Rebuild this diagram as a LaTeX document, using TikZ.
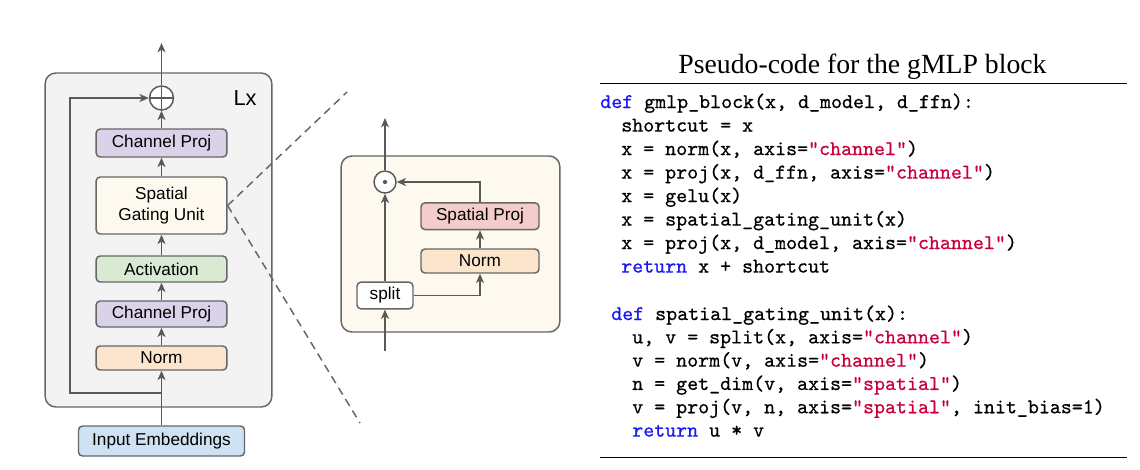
\documentclass[tikz,border=0pt]{standalone}
\usepackage{fontspec}
\setmainfont{Liberation Serif}
\newfontfamily\boxfont{Liberation Sans}
\newfontfamily\codefont{lmmono10-regular.otf}[FakeBold=0.6]
\usetikzlibrary{arrows.meta, positioning}

\definecolor{linegray}{HTML}{595959}
\definecolor{edgegray}{HTML}{666666}
\definecolor{layergray}{HTML}{F3F3F3}
\definecolor{gateyellow}{HTML}{FEF9EE}
\definecolor{projpurple}{HTML}{D9D2E9}
\definecolor{actgreen}{HTML}{D9EAD3}
\definecolor{normorange}{HTML}{FCE5CD}
\definecolor{embblue}{HTML}{CFE2F3}
\definecolor{spatred}{HTML}{F4CCCC}
\definecolor{kwblue}{RGB}{25,25,245}
\definecolor{strred}{RGB}{200,0,60}
\newcommand{\kwd}[1]{\textcolor{kwblue}{#1}}
\newcommand{\strg}[1]{\textcolor{strred}{"#1"}}

\begin{document}
\begin{tikzpicture}[
    x=0.75pt, y=-0.75pt,
    node distance=15pt,
    block/.style={
        rectangle, draw=edgegray, line width=1.1pt, rounded corners=3pt,
        minimum width=98pt, minimum height=19.5pt, inner sep=2pt, align=center,
        font=\boxfont\fontsize{12.9}{15.8}\selectfont
    },
    layerbox/.style={rectangle, draw=edgegray, line width=1.1pt, rounded corners=8pt},
    sumnode/.style={
        circle, draw=linegray, fill=white, line width=1.1pt, minimum size=18pt, inner sep=0pt,
        path picture={\draw[linegray, line width=1.1pt]
            (path picture bounding box.north) -- (path picture bounding box.south)
            (path picture bounding box.west) -- (path picture bounding box.east);}
    },
    prodnode/.style={
        circle, draw=linegray, fill=white, line width=1.1pt, minimum size=16.5pt, inner sep=0pt,
        path picture={\fill[linegray] (path picture bounding box.center) circle (1.6pt);}
    },
    arrow/.style={line width=1.1pt, draw=linegray, -{Stealth[length=7pt, width=6pt, inset=2pt]}},
    zoomline/.style={line width=1.1pt, draw=edgegray, dash pattern=on 6pt off 4pt},
    codeline/.style={anchor=mid west, inner sep=0pt, font=\codefont\fontsize{15.7}{18}\selectfont}
]
    \useasboundingbox (0,0) rectangle (1140,469);

    % gMLP layer
    \node[layerbox, fill=layergray, minimum width=170pt, minimum height=250.5pt] (layer) at (158.5,240) {};
    \node[font=\boxfont\fontsize{16.3}{18}\selectfont] (lx) at (245,98) {Lx};
    \node[block, fill=normorange, minimum height=18pt] (norm) at (161.5,358) {Norm};
    \node[block, fill=projpurple] (chin) at (161.5,314) {Channel Proj};
    \node[block, fill=actgreen] (act) at (161.5,269) {Activation};
    \node[block, fill=gateyellow, minimum height=42.75pt] (sgu) at (161.5,205.5) {Spatial\\Gating Unit};
    \node[block, fill=projpurple, minimum height=21pt] (chout) at (161.5,143) {Channel Proj};
    \node[sumnode] (plus) at (161.5,98) {};
    \node[block, fill=embblue, minimum width=124.5pt, minimum height=22.5pt] (emb) at (161.5,441) {Input Embeddings};
    \coordinate (fork) at (161.5,393);
    \coordinate (skip) at (70,393);
    \coordinate (top) at (161.5,43);

    % Connections
    \draw[arrow] (emb) -- (norm);
    \draw[arrow] (norm) -- (chin);
    \draw[arrow] (chin) -- (act);
    \draw[arrow] (act) -- (sgu);
    \draw[arrow] (sgu) -- (chout);
    \draw[arrow] (chout) -- (plus);
    \draw[arrow] (plus) -- (top);
    \draw[arrow] (fork) -- (skip) |- (plus.west);

    % Zoom lines
    \coordinate (zoomtop) at (347,92);
    \coordinate (zoombot) at (360,423);
    \draw[zoomline] (sgu.east) -- (zoomtop);
    \draw[zoomline] (sgu.east) -- (zoombot);

    % Spatial gating unit
    \node[layerbox, fill=gateyellow, minimum width=164pt, minimum height=132pt] (sgubox) at (450.5,244) {};
    \node[block, fill=white, minimum width=42pt, minimum height=20pt] (split) at (385,295.5) {split};
    \node[block, fill=normorange, minimum width=88.5pt, minimum height=18pt] (gnorm) at (480,261) {Norm};
    \node[block, fill=spatred, minimum width=88.5pt, minimum height=20pt, above=13.5pt of gnorm] (sproj) {Spatial Proj};
    \node[prodnode] (mul) at (385,182) {};
    \coordinate (gin) at (385,351);
    \coordinate (gout) at (385,118);

    \draw[arrow] (gin) -- (split);
    \draw[arrow] (split) -- (mul);
    \draw[arrow] (split.east) -| (gnorm.south);
    \draw[arrow] (gnorm) -- (sproj);
    \draw[arrow] (sproj.north) |- (mul.east);
    \draw[arrow] (mul) -- (gout);

    % Pseudo-code
    \node[anchor=base, font=\fontsize{20.8}{24}\selectfont] (title) at (862.5,73.3) {Pseudo-code for the gMLP block};
    \draw[line width=0.8pt] (600,83.3) -- (1127,83.3);
    \draw[line width=0.8pt] (600,457.7) -- (1127,457.7);

    \node[codeline] (b1) at (600,105) {\kwd{def} gmlp\_block(x, d\_model, d\_ffn):};
    \node[codeline] (b2) at (621,128.5) {shortcut = x};
    \node[codeline] (b3) at (621,152) {x = norm(x, axis=\strg{channel})};
    \node[codeline] (b4) at (621,175.5) {x = proj(x, d\_ffn, axis=\strg{channel})};
    \node[codeline] (b5) at (621,199) {x = gelu(x)};
    \node[codeline] (b6) at (621,222.5) {x = spatial\_gating\_unit(x)};
    \node[codeline] (b7) at (621,246) {x = proj(x, d\_model, axis=\strg{channel})};
    \node[codeline] (b8) at (621,269.5) {\kwd{return} x + shortcut};

    \node[codeline] (s1) at (611,317) {\kwd{def} spatial\_gating\_unit(x):};
    \node[codeline] (s2) at (632,340.3) {u, v = split(x, axis=\strg{channel})};
    \node[codeline] (s3) at (632,363.6) {v = norm(v, axis=\strg{channel})};
    \node[codeline] (s4) at (632,386.9) {n = get\_dim(v, axis=\strg{spatial})};
    \node[codeline] (s5) at (632,410.2) {v = proj(v, n, axis=\strg{spatial}, init\_bias=1)};
    \node[codeline] (s6) at (632,433.5) {\kwd{return} u * v};
\end{tikzpicture}
\end{document}
